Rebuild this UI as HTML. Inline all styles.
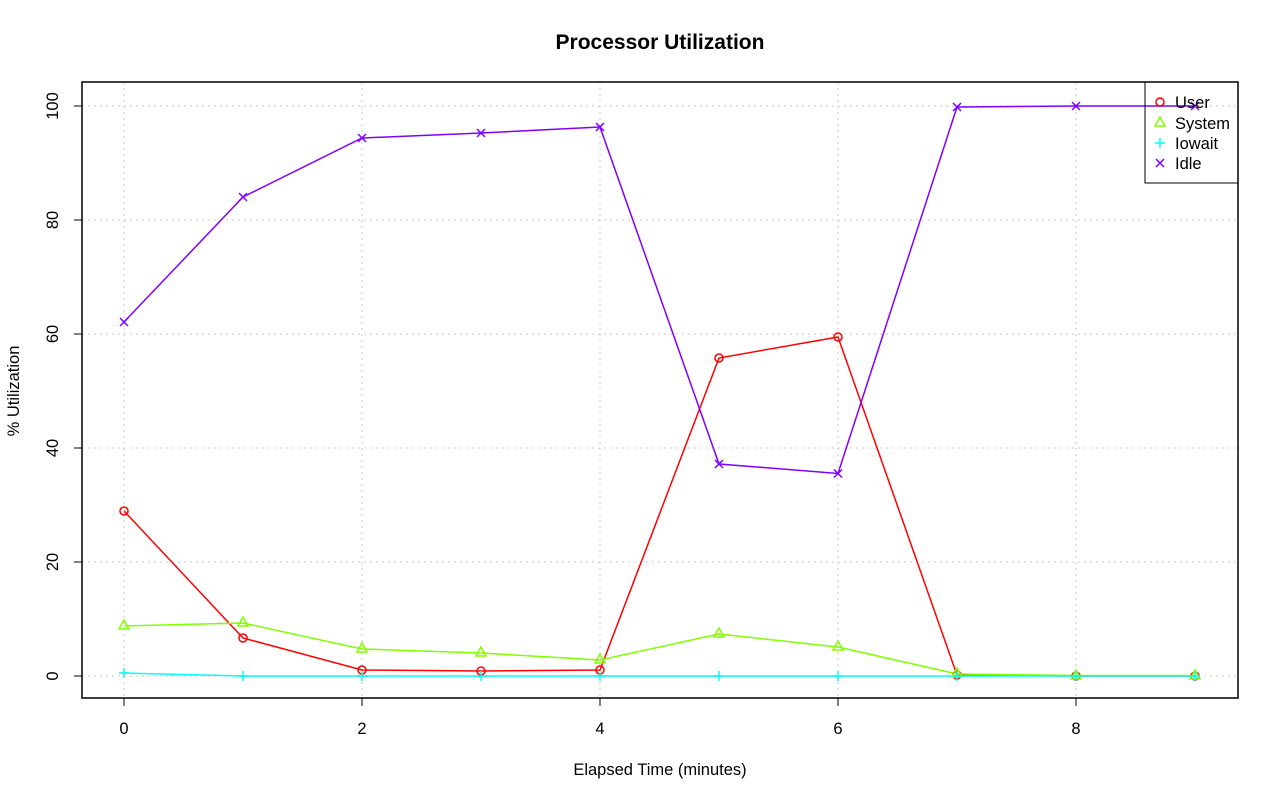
<!DOCTYPE html>
<html><head><meta charset="utf-8"><style>body{margin:0;background:#fff}</style></head><body>
<svg width="1280" height="801" xmlns="http://www.w3.org/2000/svg" font-family="Liberation Sans, sans-serif">
<rect width="1280" height="801" fill="#fff"/>
<text x="660" y="49" text-anchor="middle" font-weight="bold" font-size="21">Processor Utilization</text>
<g stroke="#c8c8c8" stroke-dasharray="2,4" stroke-width="1">
<line x1="124" y1="82" x2="124" y2="698"/><line x1="362" y1="82" x2="362" y2="698"/><line x1="600" y1="82" x2="600" y2="698"/><line x1="838" y1="82" x2="838" y2="698"/><line x1="1076" y1="82" x2="1076" y2="698"/>
<line x1="82" y1="676" x2="1238" y2="676"/><line x1="82" y1="562" x2="1238" y2="562"/><line x1="82" y1="448" x2="1238" y2="448"/><line x1="82" y1="334" x2="1238" y2="334"/><line x1="82" y1="220" x2="1238" y2="220"/><line x1="82" y1="106" x2="1238" y2="106"/>
</g>
<rect x="82" y="82" width="1156" height="616" fill="none" stroke="#000" stroke-width="1.5"/>
<g stroke="#000" stroke-width="1">
<line x1="124" y1="698" x2="1076" y2="698"/>
<line x1="124" y1="698" x2="124" y2="706"/><line x1="362" y1="698" x2="362" y2="706"/><line x1="600" y1="698" x2="600" y2="706"/><line x1="838" y1="698" x2="838" y2="706"/><line x1="1076" y1="698" x2="1076" y2="706"/>
<line x1="82" y1="106" x2="82" y2="676"/>
<line x1="74" y1="676" x2="82" y2="676"/><line x1="74" y1="562" x2="82" y2="562"/><line x1="74" y1="448" x2="82" y2="448"/><line x1="74" y1="334" x2="82" y2="334"/><line x1="74" y1="220" x2="82" y2="220"/><line x1="74" y1="106" x2="82" y2="106"/>
</g>
<g font-size="16.5" text-anchor="middle">
<text x="124" y="734">0</text><text x="362" y="734">2</text><text x="600" y="734">4</text><text x="838" y="734">6</text><text x="1076" y="734">8</text>
<text transform="translate(58,676) rotate(-90)">0</text>
<text transform="translate(58,562) rotate(-90)">20</text>
<text transform="translate(58,448) rotate(-90)">40</text>
<text transform="translate(58,334) rotate(-90)">60</text>
<text transform="translate(58,220) rotate(-90)">80</text>
<text transform="translate(58,106) rotate(-90)">100</text>
<text x="660" y="775">Elapsed Time (minutes)</text>
<text transform="translate(19,391) rotate(-90)">% Utilization</text>
</g>
<g fill="none" stroke-width="1.5">
<polyline stroke="#FF0000" points="124,511 243,638 362,670 481,671 600,670 719,358 838,337 957,675 1076,676 1195,676"/>
<polyline stroke="#80FF00" points="124,626 243,623 362,649 481,653 600,660 719,634 838,647 957,674 1076,675.5 1195,675.5"/>
<polyline stroke="#00FFFF" points="124,673 243,676 362,676 481,676 600,676 719,676 838,676 957,676 1076,676 1195,676"/>
<polyline stroke="#8000FF" points="124,322 243,197 362,138 481,133 600,127 719,464 838,473.5 957,107 1076,106 1195,106"/>
</g>
<g fill="none" stroke="#FF0000" stroke-width="1.5">
<circle cx="124" cy="511" r="4"/><circle cx="243" cy="638" r="4"/><circle cx="362" cy="670" r="4"/><circle cx="481" cy="671" r="4"/><circle cx="600" cy="670" r="4"/><circle cx="719" cy="358" r="4"/><circle cx="838" cy="337" r="4"/><circle cx="957" cy="675" r="4"/><circle cx="1076" cy="676" r="4"/><circle cx="1195" cy="676" r="4"/>
<circle cx="1160" cy="102" r="4"/>
</g>
<g fill="none" stroke="#80FF00" stroke-width="1.5">
<path d="M124,620 l5,9 h-10z M243,617 l5,9 h-10z M362,643 l5,9 h-10z M481,647 l5,9 h-10z M600,654 l5,9 h-10z M719,628 l5,9 h-10z M838,641 l5,9 h-10z M957,668 l5,9 h-10z M1076,670 l5,9 h-10z M1195,670 l5,9 h-10z M1160,117 l5,9 h-10z"/>
</g>
<g stroke="#00FFFF" stroke-width="1.5">
<path d="M119,673h10M124,668v10 M238,676h10M243,671v10 M357,676h10M362,671v10 M476,676h10M481,671v10 M595,676h10M600,671v10 M714,676h10M719,671v10 M833,676h10M838,671v10 M952,676h10M957,671v10 M1071,676h10M1076,671v10 M1190,676h10M1195,671v10 M1155,143h10M1160,138v10"/>
</g>
<g stroke="#8000FF" stroke-width="1.5">
<path d="M120,318l8,8M128,318l-8,8 M239,193l8,8M247,193l-8,8 M358,134l8,8M366,134l-8,8 M477,129l8,8M485,129l-8,8 M596,123l8,8M604,123l-8,8 M715,460l8,8M723,460l-8,8 M834,469.5l8,8M842,469.5l-8,8 M953,103l8,8M961,103l-8,8 M1072,102l8,8M1080,102l-8,8 M1191,102l8,8M1199,102l-8,8 M1156,159l8,8M1164,159l-8,8"/>
</g>
<rect x="1145" y="82" width="93" height="101" fill="none" stroke="#000" stroke-width="1"/>
<g font-size="16.5">
<text x="1175" y="108">User</text><text x="1175" y="129">System</text><text x="1175" y="149">Iowait</text><text x="1175" y="169">Idle</text>
</g>
</svg>
</body></html>
